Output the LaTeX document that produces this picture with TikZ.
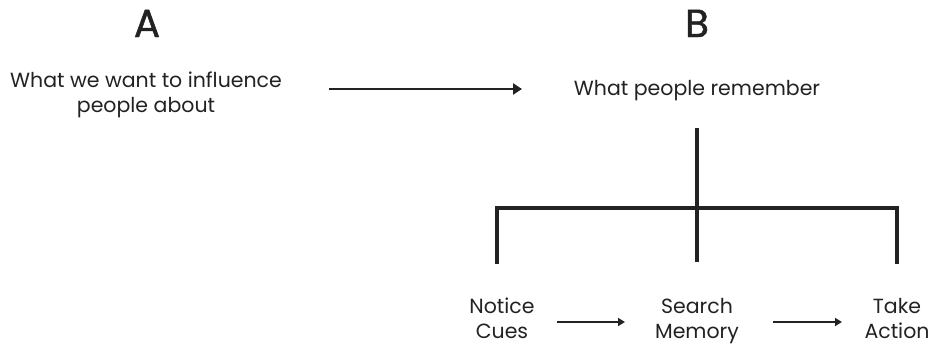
\documentclass[tikz,border=0pt]{standalone}
\usepackage{fontspec}
\setmainfont{Poppins}
\usetikzlibrary{arrows.meta}
\definecolor{ink}{HTML}{222222}
\begin{document}
\begin{tikzpicture}[x=1pt,y=-1pt,
  txt/.style={text=ink,font=\fontsize{20.5}{24.5}\selectfont,align=center,inner sep=0pt,anchor=base},
  head/.style={text=ink,font=\fontsize{39}{40}\selectfont\addfontfeatures{FakeBold=1.2},inner sep=0pt,anchor=base},
  bar/.style={draw=ink,line width=3.5pt},
  flow/.style={draw=ink,line width=2.8pt,-{Triangle[length=9pt,width=11pt]}},
  smallflow/.style={draw=ink,line width=2pt,-{Triangle[length=7pt,width=8pt]}}]
\useasboundingbox (0,0) rectangle (932,348);
% column headings
\node[head] (A) at (147,37) {A};
\node[head] (B) at (697,37) {B};
% top row (base anchor sits on the last line)
\node[txt] (infl) at (146,112) {What we want to influence\\people about};
\node[txt] (rem) at (697,95) {What people remember};
% bottom row
\node[txt] (notice) at (502,338) {Notice\\Cues};
\node[txt] (search) at (697,338) {Search\\Memory};
\node[txt] (action) at (897,338) {Take\\Action};
% connectors
\coordinate (aS) at (329,89);
\coordinate (aE) at (522,89);
\draw[flow] (aS) -- (aE);
\coordinate (top) at (697,128);
\coordinate (hub) at (697,208);
\coordinate (lft) at (497,208);
\coordinate (rgt) at (897,208);
\draw[bar] (top) -- (697,262);
\draw[bar,line cap=rect] (497,262) -- (lft) -- (rgt) -- (897,262);
\draw[smallflow] (557,322) -- (625,322);
\draw[smallflow] (773,322) -- (842,322);
\end{tikzpicture}
\end{document}
